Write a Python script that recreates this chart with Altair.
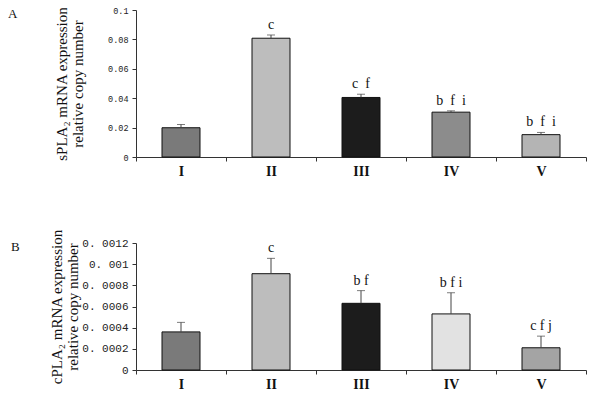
import altair as alt
import pandas as pd

groups = ["I", "II", "III", "IV", "V"]

a_vals = [0.0199, 0.0808, 0.0405, 0.0305, 0.0152]
a_err = [0.0022, 0.0022, 0.0022, 0.0009, 0.0015]
a_sig = ["", "c", "c\u00a0 f", "b\u00a0 f\u00a0 i", "b\u00a0 f\u00a0 i"]

b_vals = [0.00036, 0.00091, 0.00063, 0.00053, 0.00021]
b_err = [0.00009, 0.000145, 0.00012, 0.0002, 0.00011]
b_sig = ["", "c", "b f", "b f i", "c f j"]

a_fill = ["#7a7a7a", "#bdbdbd", "#1c1c1c", "#8c8c8c", "#b4b4b4"]
b_fill = ["#7a7a7a", "#bdbdbd", "#1c1c1c", "#e2e2e2", "#a4a4a4"]

SERIF = "Liberation Serif"


def panel(vals, errs, sigs, fills, ymax, ystep, title, label_font, label_size,
          label_expr, title_pad, letter, letter_x, width, height):
    df = pd.DataFrame({"g": groups, "v": vals, "e": errs, "s": sigs, "c": fills})
    df["top"] = df["v"] + df["e"]
    x_axis = alt.Axis(title=None, labelAngle=0, labelFont=SERIF,
                      labelFontWeight="bold", labelFontSize=14,
                      labelColor="#111", labelPadding=3,
                      tickBand="extent", tickSize=4, tickColor="#333",
                      domainColor="#333")
    x = alt.X("g:N", sort=groups,
              scale=alt.Scale(paddingInner=0, paddingOuter=0), axis=x_axis)
    y_axis = alt.Axis(title=title, titleFont=SERIF, titleFontSize=15,
                      titleLineHeight=16,
                      titleFontWeight="normal", titleColor="#111",
                      titlePadding=title_pad, labelFont=label_font,
                      labelFontSize=label_size, labelColor="#222",
                      labelOverlap=False, labelPadding=4,
                      values=[round(i * ystep, 6) for i in range(int(round(ymax / ystep)) + 1)],
                      labelExpr=label_expr, grid=False, tickSize=4,
                      tickColor="#333", domainColor="#333")
    yscale = alt.Scale(domain=[0, ymax], nice=False)
    y = alt.Y("v:Q", scale=yscale, axis=y_axis)
    yt = alt.Y("top:Q", scale=yscale, axis=y_axis)
    base = alt.Chart(df)
    bars = base.mark_bar(size=38, stroke="#111", strokeWidth=1).encode(
        x=x, y=y, fill=alt.Fill("c:N", scale=None))
    rule = base.mark_rule(color="#444", strokeWidth=1).encode(
        x=x, y=y, y2="top:Q")
    cap = base.mark_tick(color="#444", size=8, thickness=1).encode(x=x, y=yt)
    txt = base.mark_text(font=SERIF, fontSize=14, color="#111", baseline="bottom",
                         dy=-3).encode(x=x, y=yt, text="s:N")
    lab = alt.Chart(pd.DataFrame({"t": [letter]})).mark_text(
        font=SERIF, fontSize=13, color="#111", align="left", baseline="middle"
    ).encode(x=alt.value(letter_x), y=alt.value(4), text="t:N")
    return alt.layer(bars, rule, cap, txt, lab).properties(width=width, height=height)


top = panel(a_vals, a_err, a_sig, a_fill, 0.1, 0.02,
            ["sPLA₂ mRNA expression", "relative copy number"],
            "Liberation Mono", 8.5, "datum.value == 0 ? '0' : format(datum.value, '.2~f')",
            22, "A", -128, 450, 147)
bottom = panel(b_vals, b_err, b_sig, b_fill, 0.0012, 0.0002,
               ["cPLA₂ mRNA expression", "relative copy number"],
               "Liberation Mono", 11,
               "datum.value == 0 ? '0' : replace(format(datum.value, '.4~f'), '.', '. ')",
               1, "B", -125, 450, 127)

chart = (alt.vconcat(top, bottom, spacing=50)
         .configure(padding={"left": 0, "top": -2, "right": 0, "bottom": 0},
                    background="white")
         .configure_view(stroke=None)
         .configure_axis(labelOverlap=False))

chart.save("out.html", embed_options={"renderer": "svg", "actions": False})
